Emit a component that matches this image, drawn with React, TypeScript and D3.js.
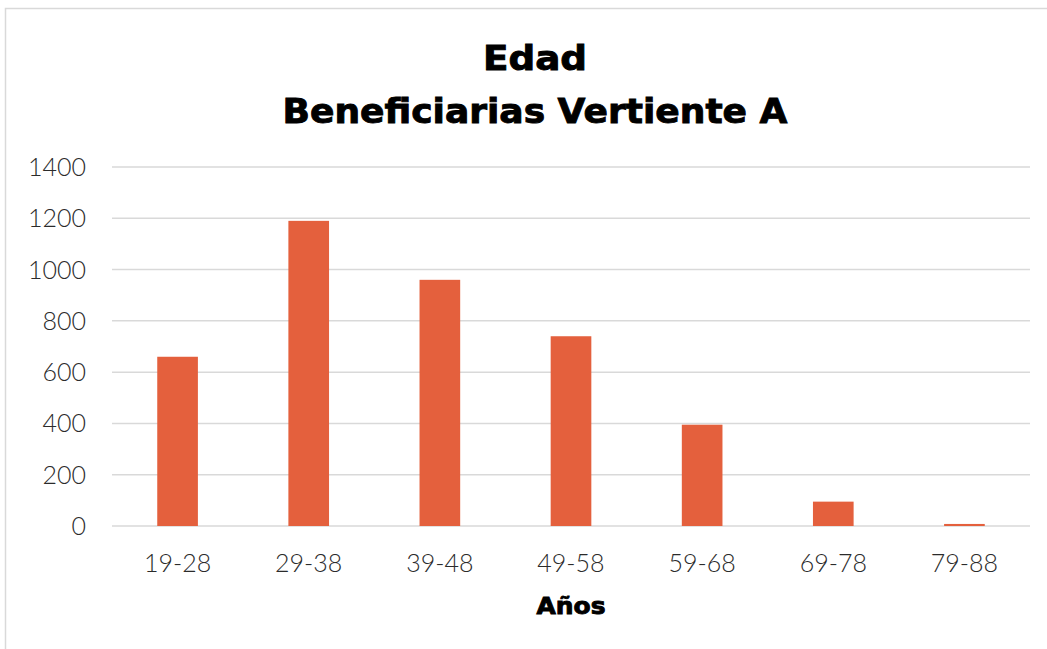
import React from 'react';
import * as d3 from 'd3';

const categories = ['19-28', '29-38', '39-48', '49-58', '59-68', '69-78', '79-88'];
const values = [660, 1190, 960, 740, 395, 95, 8];
const yTicks = [0, 200, 400, 600, 800, 1000, 1200, 1400];

const W = 1047;
const H = 649;
const margin = { left: 112, right: 17, top: 167, bottom: 123 };

export default function App() {
  const x = d3.scaleBand<string>()
    .domain(categories)
    .range([margin.left, W - margin.right])
    .paddingInner(0.69)
    .paddingOuter(0.345);
  const y = d3.scaleLinear().domain([0, 1400]).range([H - margin.bottom, margin.top]);

  const tickFont = { fontFamily: 'Lato', fontWeight: 300, fontSize: 25, fill: '#2b2b2b' };
  // heavy geometric title face: DejaVu bold plus a thin stroke to thicken it
  const boldFont = { fontFamily: 'DejaVu Sans', fontWeight: 700, fill: '#000', stroke: '#000', strokeWidth: 0.9 };

  return (
    <svg width={W} height={H} style={{ position: 'absolute', left: 0, top: 0, background: '#fff' }}>
      <rect x={5.5} y={8.5} width={1100} height={700} fill="#fff" stroke="#d9d9d9" strokeWidth={1.5} />
      <text x={535} y={70} textAnchor="middle" fontSize={34} textLength={104} lengthAdjust="spacingAndGlyphs" {...boldFont}>Edad</text>
      <text x={535} y={123} textAnchor="middle" fontSize={34} textLength={505} lengthAdjust="spacingAndGlyphs" {...boldFont}>Beneficiarias Vertiente A</text>
      {yTicks.map(t => (
        <g key={t}>
          <line x1={margin.left} x2={W - margin.right} y1={y(t)} y2={y(t)} stroke="#d9d9d9" strokeWidth={1.5} />
          <text x={86} y={y(t) + 9} textAnchor="end" {...tickFont}>{t}</text>
        </g>
      ))}
      {values.map((v, i) => (
        <rect key={i} x={x(categories[i])} y={y(v)} width={x.bandwidth()} height={y(0) - y(v)} fill="#E4603D" />
      ))}
      {categories.map(c => (
        <text key={c} x={(x(c) as number) + x.bandwidth() / 2} y={572} textAnchor="middle" {...tickFont}>{c}</text>
      ))}
      <text x={571} y={614} textAnchor="middle" fontSize={23} textLength={69} lengthAdjust="spacingAndGlyphs" {...boldFont}>Años</text>
    </svg>
  );
}
